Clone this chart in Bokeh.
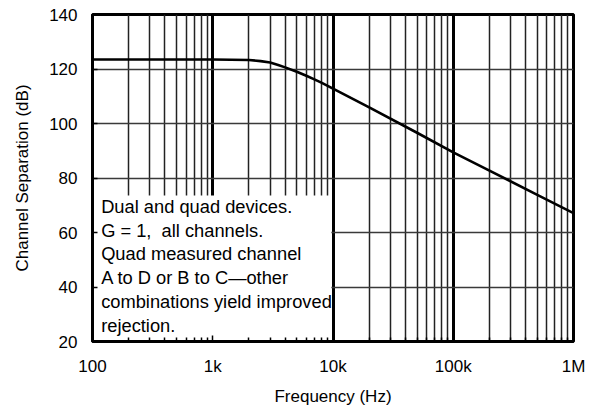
from bokeh.plotting import figure
from bokeh.models import Range1d, FixedTicker, BoxAnnotation, Label
from bokeh.embed import file_html
from bokeh.resources import INLINE

# ---- data ----
freq = [100, 1000, 2000, 2500, 3000, 3500, 4000, 5000, 6000, 7000, 8000,
        10000, 20000, 50000, 100000, 200000, 500000, 1000000]
separation = [123.5, 123.5, 123.3, 122.9, 122.4, 121.5, 120.6, 119.0, 117.5,
              116.2, 115.0, 112.8, 105.9, 96.6, 89.4, 82.7, 73.8, 67.1]

x_ticks = [100, 1000, 10000, 100000, 1000000]
x_tick_labels = ["100", "1k", "10k", "100k", "1M"]
x_minor_mantissas = [2, 3, 4, 5, 6, 7, 8, 9]
y_ticks = [20, 40, 60, 80, 100, 120, 140]

note_lines = [
    "Dual and quad devices.",
    "G = 1,\u00a0 all channels.",
    "Quad measured channel",
    "A to D or B to C\u2014other",
    "combinations yield improved",
    "rejection.",
]

FONT = "Liberation Sans"
TXT = "#000000"

x_minor = [m * d for d in x_ticks[:-1] for m in x_minor_mantissas]

W, H = 590, 409
p = figure(width=W, height=H, x_axis_type="log",
           x_range=Range1d(100, 1e6), y_range=Range1d(20, 140),
           output_backend="svg", toolbar_location=None,
           min_border_left=92, min_border_right=W - 573,
           min_border_top=14, min_border_bottom=H - 341)
p.background_fill_color = "white"
p.border_fill_color = "white"
p.outline_line_color = "black"
p.outline_line_width = 3

# axes
p.xaxis.ticker = FixedTicker(ticks=x_ticks, minor_ticks=x_minor)
p.xaxis.major_label_overrides = {t: l for t, l in zip(x_ticks, x_tick_labels)}
p.yaxis.ticker = FixedTicker(ticks=y_ticks, minor_ticks=[])

for ax in (p.xaxis[0], p.yaxis[0]):
    ax.axis_line_color = "black"
    ax.axis_line_width = 3
    ax.major_tick_out = 0
    ax.minor_tick_out = 0
    ax.major_tick_line_color = "black"
    ax.minor_tick_line_color = "black"
    ax.major_tick_line_width = 1.5
    ax.minor_tick_line_width = 1.5
    ax.major_label_text_font = FONT
    ax.major_label_text_font_size = "17px"
    ax.major_label_text_color = TXT
    ax.axis_label_text_font = FONT
    ax.axis_label_text_font_size = "17px"
    ax.axis_label_text_font_style = "normal"
    ax.axis_label_text_color = TXT

p.xaxis.major_tick_in = 6
p.xaxis.minor_tick_in = 4
p.yaxis.major_tick_in = 5
p.yaxis.minor_tick_in = 0
p.xaxis.major_label_standoff = 15
p.yaxis.major_label_standoff = 15
p.xaxis.axis_label = "Frequency (Hz)"
p.yaxis.axis_label = "Channel Separation (dB)"
p.xaxis.axis_label_standoff = 8
p.yaxis.axis_label_standoff = 14

# grids
p.xgrid.ticker = p.xaxis.ticker
p.xgrid.grid_line_color = "black"
p.xgrid.grid_line_width = 3
p.xgrid.minor_grid_line_color = "#222222"
p.xgrid.minor_grid_line_width = 1.5
p.ygrid.ticker = FixedTicker(ticks=y_ticks)
p.ygrid.grid_line_color = "#3a3a3a"
p.ygrid.grid_line_width = 1.6

# curve
p.line(freq, separation, line_color="black", line_width=2.6)

# note box (white panel hiding grid)
box = BoxAnnotation(left=101, right=9700, bottom=20.5, top=73.6,
                    fill_color="white", fill_alpha=1.0, line_color=None,
                    level="glyph")
p.add_layout(box)

note = Label(x=118, y=73.4, text="\n".join(note_lines),
             text_font=FONT, text_font_size="18.3px", text_color=TXT,
             text_baseline="top", text_align="left", text_line_height=1.13)
p.add_layout(note)

open("out.html", "w").write(file_html(p, INLINE))
